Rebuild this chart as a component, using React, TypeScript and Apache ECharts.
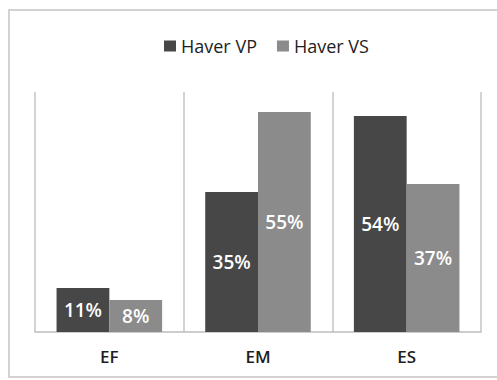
import React, { useEffect, useRef } from "react";
import * as echarts from "echarts";

// Share of respondents per group, in percent
const categories = ["EF", "EM", "ES"];
const seriesNames = ["Haver VP", "Haver VS"];
const haverVP = [11, 35, 54];
const haverVS = [8, 55, 37];

const COLORS = ["#474747", "#8b8b8b"];
const FONT = "'Open Sans', 'Noto Sans', sans-serif";

export default function App() {
  const ref = useRef<HTMLDivElement>(null);

  useEffect(() => {
    if (!ref.current) return;
    const chart = echarts.init(ref.current, undefined, { renderer: "svg" });

    const label = {
      show: true,
      position: "inside" as const,
      color: "#ffffff",
      fontFamily: FONT,
      fontSize: 19,
      fontWeight: 600 as const,
      formatter: (p: any) => `${p.value}%`,
    };

    chart.setOption({
      animation: false,
      backgroundColor: "#ffffff",
      graphic: [
        {
          type: "rect",
          shape: { x: 9, y: 10, width: 520, height: 367 },
          style: { fill: "none", stroke: "#c4c4c4", lineWidth: 1.5 },
          silent: true,
        },
      ],
      legend: {
        data: seriesNames,
        top: 32,
        left: 159,
        itemWidth: 12,
        itemHeight: 11,
        itemGap: 20,
        icon: "rect",
        textStyle: { fontFamily: FONT, fontSize: 18, color: "#1e1e1e" },
      },
      grid: { left: 35, right: 16, top: 92, bottom: 48 },
      xAxis: {
        type: "category",
        data: categories,
        boundaryGap: true,
        axisLine: { show: true, lineStyle: { color: "#bdbdbd", width: 1.5 } },
        axisTick: { show: false },
        splitLine: { show: true, lineStyle: { color: "#c4c4c4", width: 1.5 } },
        axisLabel: {
          margin: 16,
          fontFamily: FONT,
          fontSize: 17,
          fontWeight: 600,
          color: "#1e1e1e",
        },
      },
      yAxis: {
        type: "value",
        min: 0,
        max: 60,
        show: false,
        splitLine: { show: false },
      },
      series: [
        {
          name: seriesNames[0],
          type: "bar",
          data: haverVP,
          itemStyle: { color: COLORS[0] },
          barGap: "0%",
          barCategoryGap: "29%",
          label,
        },
        {
          name: seriesNames[1],
          type: "bar",
          data: haverVS,
          itemStyle: { color: COLORS[1] },
          barGap: "0%",
          barCategoryGap: "29%",
          label,
        },
      ],
    });

    return () => chart.dispose();
  }, []);

  return (
    <div
      ref={ref}
      style={{ position: "fixed", left: 0, top: 0, width: 497, height: 380 }}
    />
  );
}
